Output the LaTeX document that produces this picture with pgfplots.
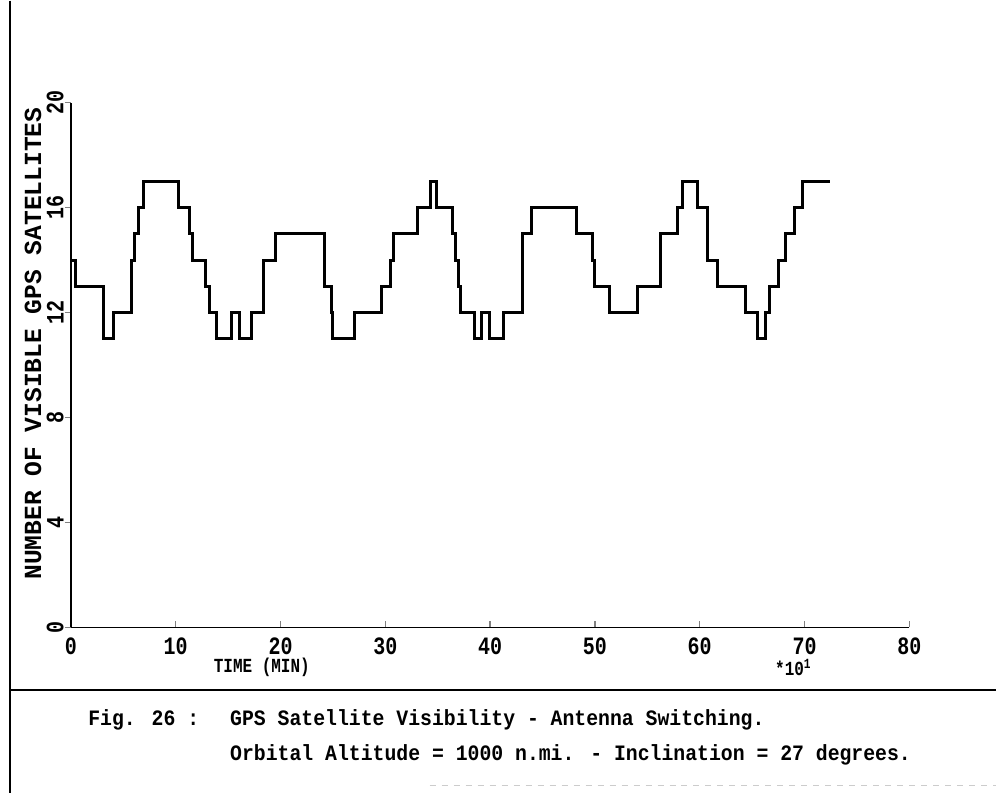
\documentclass[border=0pt]{standalone}
\usepackage{fontspec}
\setmainfont{Liberation Mono}
\newfontfamily\tickfont[FakeStretch=0.8]{Liberation Mono}
\newfontfamily\capfont[FakeStretch=0.9]{Liberation Mono}
\newfontfamily\labfont{Liberation Mono}
\usepackage{pgfplots}
\pgfplotsset{compat=1.18}
\begin{document}
\begin{tikzpicture}
\begin{scope}[x=0.5pt,y=-0.5pt,xshift=-35.5pt,yshift=313.5pt]
\useasboundingbox (0,0) rectangle (997,793);
\end{scope}
\begin{axis}[
  at={(0,0)}, anchor=origin,
  scale only axis, width=419.5pt, height=262.5pt,
  xmin=0, xmax=80, ymin=0, ymax=20,
  axis x line=bottom, axis y line=left,
  axis line style={-, line width=0.75pt},
  xtick={0,10,...,80}, ytick={0,4,...,20},
  major tick length=3pt,
  x tick style={line width=0.75pt},
  y tick style={line width=0.75pt},
  ytick align=outside, xtick align=inside,
  /pgf/number format/assume math mode=true,
  ticklabel style={font=\tickfont\bfseries\fontsize{12.5}{13}\selectfont},
  yticklabel style={rotate=90, anchor=south, inner sep=0.5pt},
  xticklabel style={yshift=-1.5pt},
  clip=false,
]
\addplot[const plot, line width=1.5pt, black] coordinates {
(0,14) (0.4,13) (3.1,11) (4.1,12) (5.8,14) (6.1,15) (6.4,16) (6.95,17)
(10.3,16) (11.3,15) (11.6,14) (12.8,13) (13.2,12) (13.9,11) (15.3,12)
(16.1,11) (17.2,12) (18.4,14) (19.5,15) (24.2,13) (24.85,12) (25.0,11)
(27.1,12) (29.6,13) (30.5,14) (30.8,15) (33.1,16) (34.35,17) (34.9,16)
(36.4,15) (36.7,14) (37.0,13) (37.2,12) (38.5,11) (39.2,12) (39.9,11)
(41.3,12) (43.1,15) (43.9,16) (48.2,15) (49.8,14) (50.0,13) (51.4,12)
(54.1,13) (56.25,15) (57.85,16) (58.4,17) (59.8,16) (60.75,14) (61.65,13)
(64.4,12) (65.5,11) (66.3,12) (66.7,13) (67.5,14) (68.2,15) (69.0,16)
(69.8,17) (72.4,17)
};
\end{axis}
\begin{scope}[x=0.5pt,y=-0.5pt,xshift=-35.5pt,yshift=313.5pt]
\draw[line width=0.75pt] (10,0) -- (10,793);
\draw[line width=0.75pt] (10,690) -- (997,690);
\draw[gray!40, dashed, line width=0.6pt] (430,785) -- (997,785);
\node[rotate=90, inner sep=0pt, font=\labfont\bfseries\fontsize{12.3}{14}\selectfont] at (33,343) {NUMBER OF VISIBLE GPS SATELLITES};
\node[inner sep=0pt, font=\tickfont\bfseries\fontsize{10}{12}\selectfont] at (262,667) {TIME (MIN)};
\node[inner sep=0pt, font=\tickfont\bfseries\fontsize{10}{12}\selectfont] at (794,667) {*10\textsuperscript{1}};
\node[anchor=west, inner sep=0pt, font=\capfont\bfseries\fontsize{11}{13}\selectfont] at (88,720) {Fig. 26 :};
\node[anchor=west, inner sep=0pt, font=\capfont\bfseries\fontsize{11}{13}\selectfont] at (230,720) {GPS Satellite Visibility - Antenna Switching.};
\node[anchor=west, inner sep=0pt, font=\capfont\bfseries\fontsize{11}{13}\selectfont] at (230,755) {Orbital Altitude = 1000 n.mi. - Inclination = 27 degrees.};
\end{scope}
\end{tikzpicture}
\end{document}
